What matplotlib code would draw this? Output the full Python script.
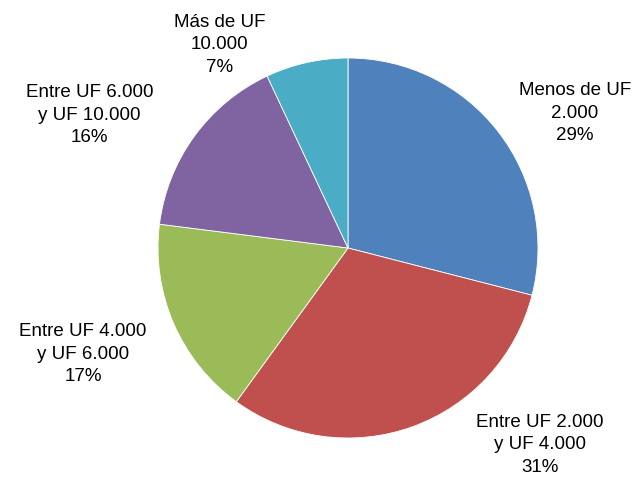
import matplotlib
matplotlib.use('Agg')
import matplotlib.pyplot as plt

labels = ['Menos de UF\n2.000', 'Entre UF 2.000\ny UF 4.000', 'Entre UF 4.000\ny UF 6.000',
          'Entre UF 6.000\ny UF 10.000', 'Más de UF\n10.000']
shares = [29, 31, 17, 16, 7]
colors = ['#4F81BD', '#C0504D', '#9BBB59', '#8064A2', '#4BACC6']
# label anchor points in radius units (pie centre = 0,0)
label_pos = [(1.195, 0.71), (1.01, -1.035), (-1.395, -0.56), (-1.36, 0.70), (-0.675, 1.07)]

plt.rcParams['font.family'] = ['Liberation Sans', 'DejaVu Sans']

W, H = 639, 479
cx, cy, r = 348, 248, 190
fig = plt.figure(figsize=(W / 100, H / 100), dpi=100)
ax = fig.add_axes([0, 0, 1, 1])
ax.pie(shares, colors=colors, startangle=90, counterclock=False, radius=1,
       wedgeprops={'edgecolor': 'white', 'linewidth': 0.6})
ax.set_xlim(-cx / r, (W - cx) / r)
ax.set_ylim(-(H - cy) / r, cy / r)
ax.set_aspect('equal')
ax.axis('off')

for lab, v, (x, y) in zip(labels, shares, label_pos):
    ax.text(x, y, f'{lab}\n{v}%', ha='center', va='center', fontsize=13.5,
            linespacing=1.42, color='black')

fig.savefig('out.png', dpi=100)
